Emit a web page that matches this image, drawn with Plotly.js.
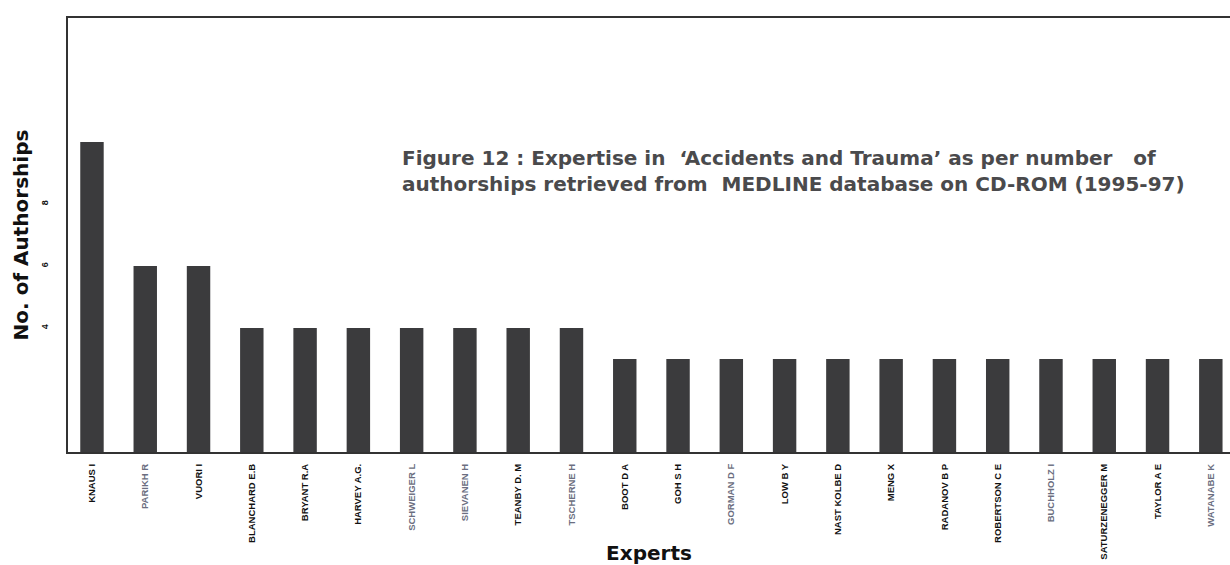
<!DOCTYPE html>
<html>
<head>
<meta charset="utf-8">
<script src="https://cdn.plot.ly/plotly-3.0.1.min.js"></script>
<style>html,body{margin:0;padding:0;background:#fff;}#chart{width:1230px;height:565px;}</style>
</head>
<body>
<div id="chart"></div>
<script>
const experts = ["KNAUS I","PARIKH R","VUORI I","BLANCHARD E.B","BRYANT R.A","HARVEY A.G.","SCHWEIGER L","SIEVANEN H","TEANBY D. M","TSCHERNE H","BOOT D A","GOH S H","GORMAN D F","LOW B Y","NAST KOLBE D","MENG X","RADANOV B P","ROBERTSON C E","BUCHHOLZ I","SATURZENEGGER M","TAYLOR A E","WATANABE K"];
const authorships = [10,6,6,4,4,4,4,4,4,4,3,3,3,3,3,3,3,3,3,3,3,3];
const fadedLabels = ["PARIKH R","SCHWEIGER L","SIEVANEN H","TSCHERNE H","GORMAN D F","BUCHHOLZ I","WATANABE K"];
const yTicks = [4,6,8];

const tickText = experts.map(e => fadedLabels.includes(e) ? '<span style="color:#6b6e80">' + e + '</span>' : e);

const trace = {
  type: 'bar',
  x: experts,
  y: authorships,
  marker: {color: '#3b3b3d', line: {width: 0}},
  hoverinfo: 'x+y'
};

const titleFont = 'DejaVu Sans, Liberation Sans, Arial, sans-serif';

const layout = {
  width: 1230, height: 565,
  margin: {l: 68, r: 0, t: 18, b: 113},
  paper_bgcolor: '#ffffff', plot_bgcolor: '#ffffff',
  bargap: 0.56,
  showlegend: false,
  font: {family: 'Liberation Sans, Arial, sans-serif', color: '#111'},
  xaxis: {
    type: 'category',
    range: [-0.45, 21.36],
    tickmode: 'array', tickvals: experts, ticktext: tickText,
    tickangle: -90,
    ticks: '', ticklabelstandoff: 6,
    tickfont: {family: 'Liberation Sans Narrow, Liberation Sans, Arial, sans-serif', size: 9.5, weight: 'bold', color: '#111'},
    showline: true, linecolor: '#333', linewidth: 2, mirror: true,
    showgrid: false, zeroline: false,
    title: {text: 'Experts', font: {family: titleFont, size: 20, weight: 'bold', color: '#111'}, standoff: 4}
  },
  yaxis: {
    range: [0, 14],
    tickmode: 'array', tickvals: yTicks, ticktext: yTicks.map(String),
    tickangle: -90,
    ticks: '', ticklabelstandoff: 14,
    tickfont: {size: 9, weight: 'bold', color: '#111'},
    showline: true, linecolor: '#333', linewidth: 2,
    showgrid: false, zeroline: false,
    title: {text: 'No. of Authorships', font: {family: titleFont, size: 20, weight: 'bold', color: '#111'}, standoff: 6}
  },
  annotations: [{
    xref: 'paper', yref: 'paper',
    x: 0.286, y: 0.71, xanchor: 'left', yanchor: 'top',
    align: 'left', showarrow: false,
    text: 'Figure 12 : Expertise in  \u2018Accidents and Trauma\u2019 as per number   of<br>authorships retrieved from  MEDLINE database on CD-ROM (1995-97)',
    font: {size: 20, weight: 'bold', color: '#4a4a4c', family: titleFont}
  }]
};

Plotly.newPlot('chart', [trace], layout, {displayModeBar: false, staticPlot: true});
</script>
</body>
</html>
